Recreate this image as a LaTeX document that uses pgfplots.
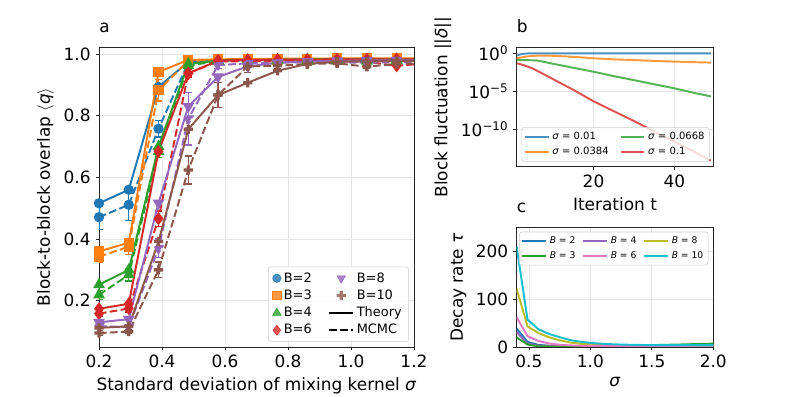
\documentclass[border=0pt]{standalone}
\usepackage{fontspec}
\setmainfont{DejaVu Sans}
\usepackage{pgfplots}
\pgfplotsset{compat=1.18}

\definecolor{c0}{HTML}{1F77B4}
\definecolor{c1}{HTML}{FF7F0E}
\definecolor{c2}{HTML}{2CA02C}
\definecolor{c3}{HTML}{D62728}
\definecolor{c4}{HTML}{9467BD}
\definecolor{c5}{HTML}{8C564B}
\definecolor{c6}{HTML}{E377C2}
\definecolor{c8}{HTML}{BCBD22}
\definecolor{c9}{HTML}{17BECF}

% filled plus, like matplotlib's 'P'
\pgfdeclareplotmark{P}{%
  \pgfpathrectangle{\pgfqpoint{-\pgfplotmarksize}{-0.36\pgfplotmarksize}}{\pgfqpoint{2\pgfplotmarksize}{0.72\pgfplotmarksize}}%
  \pgfpathrectangle{\pgfqpoint{-0.36\pgfplotmarksize}{-\pgfplotmarksize}}{\pgfqpoint{0.72\pgfplotmarksize}{2\pgfplotmarksize}}%
  \pgfusepathqfill
}

\pgfplotsset{
  mpl/.style={
    scale only axis,
    anchor=south west,
    axis line style={line width=0.6pt, black!85},
    tick align=outside, tick pos=left,
    major tick length=2.5pt,
    every tick/.style={black!85, line width=0.6pt},
    grid=major, major grid style={black!10, line width=0.5pt},
    tick label style={font=\fontsize{12.2}{14}\selectfont},
    label style={font=\fontsize{12.2}{14}\selectfont},
    /pgf/number format/assume math mode=true,
    title style={at={(0,1)}, anchor=base west, inner sep=0pt, yshift=4.5pt,
      font=\fontsize{12.2}{14}\selectfont},
    legend cell align=left,
  },
  th/.style={line width=1.4pt, solid, mark options={solid}},
  mc/.style={line width=1.4pt, dash pattern=on 5.5pt off 2.4pt, mark options={solid},
    error bars/y dir=both, error bars/y explicit,
    error bars/error bar style={solid, line width=1pt},
    error bars/error mark options={rotate=90, mark size=2.6pt, solid, line width=1pt}},
  ln/.style={line width=1.4pt, no markers},
}

\begin{document}
\begin{tikzpicture}
\path[use as bounding box] (0,0) rectangle (571pt,285.84pt);

% ---------------- panel a ----------------
\begin{axis}[mpl,
  at={(71.28pt,36pt)}, width=226.8pt, height=216pt,
  xmin=0.2, xmax=1.2, ymin=0.05, ymax=1.023,
  xtick={0.2,0.4,0.6,0.8,1.0,1.2}, ytick={0.2,0.4,0.6,0.8,1.0},
  xticklabel style={/pgf/number format/.cd, fixed, fixed zerofill, precision=1},
  yticklabel style={/pgf/number format/.cd, fixed, fixed zerofill, precision=1},
  xlabel={Standard deviation of mixing kernel \textit{σ}},
  ylabel={Block-to-block overlap $\langle$\textit{q}$\rangle$},
  title={a},
  legend style={at={(0.984,0.017)}, anchor=south east, legend columns=2,
    font=\fontsize{9.3}{11.5}\selectfont, draw=black!20, rounded corners=2pt,
    fill=white, fill opacity=0.8, text opacity=1,
    /tikz/every even column/.append style={column sep=10pt}},
]
% B=2
\addplot[c0, th, mark=*, mark size=3pt, forget plot] coordinates {
  (0.2,0.516) (0.2945,0.560) (0.389,0.893) (0.4835,0.975) (0.578,0.980) (0.6725,0.982)
  (0.767,0.983) (0.8615,0.983) (0.956,0.984) (1.0505,0.984) (1.145,0.984) (1.2395,0.984)};
\addplot[c0, mc, mark=*, mark size=3pt, forget plot] coordinates {
  (0.2,0.471) +- (0,0.04) (0.2945,0.511) +- (0,0.05) (0.389,0.758) +- (0,0.027)
  (0.4835,0.972) +- (0,0.006) (0.578,0.978) +- (0,0.004) (0.6725,0.980) +- (0,0.003)
  (0.767,0.981) +- (0,0.003) (0.8615,0.979) +- (0,0.003) (0.956,0.982) +- (0,0.003)
  (1.0505,0.978) +- (0,0.003) (1.145,0.981) +- (0,0.003) (1.2395,0.980) +- (0,0.003)};
% B=3
\addplot[c1, th, mark=square*, mark size=3pt, forget plot] coordinates {
  (0.2,0.360) (0.2945,0.388) (0.389,0.942) (0.4835,0.981) (0.578,0.983) (0.6725,0.984)
  (0.767,0.985) (0.8615,0.985) (0.956,0.986) (1.0505,0.986) (1.145,0.986) (1.2395,0.986)};
\addplot[c1, mc, mark=square*, mark size=3pt, forget plot] coordinates {
  (0.2,0.343) +- (0,0.02) (0.2945,0.375) +- (0,0.025) (0.389,0.883) +- (0,0.035)
  (0.4835,0.978) +- (0,0.005) (0.578,0.981) +- (0,0.003) (0.6725,0.983) +- (0,0.003)
  (0.767,0.982) +- (0,0.003) (0.8615,0.984) +- (0,0.003) (0.956,0.983) +- (0,0.003)
  (1.0505,0.985) +- (0,0.003) (1.145,0.982) +- (0,0.003) (1.2395,0.983) +- (0,0.003)};
% B=4
\addplot[c2, th, mark=triangle*, mark size=3.5pt, forget plot] coordinates {
  (0.2,0.252) (0.2945,0.300) (0.389,0.700) (0.4835,0.968) (0.578,0.979) (0.6725,0.981)
  (0.767,0.982) (0.8615,0.983) (0.956,0.983) (1.0505,0.983) (1.145,0.983) (1.2395,0.983)};
\addplot[c2, mc, mark=triangle*, mark size=3.5pt, forget plot] coordinates {
  (0.2,0.219) +- (0,0.015) (0.2945,0.284) +- (0,0.02) (0.389,0.684) +- (0,0.02)
  (0.4835,0.962) +- (0,0.008) (0.578,0.978) +- (0,0.004) (0.6725,0.978) +- (0,0.003)
  (0.767,0.980) +- (0,0.003) (0.8615,0.976) +- (0,0.003) (0.956,0.978) +- (0,0.003)
  (1.0505,0.977) +- (0,0.003) (1.145,0.979) +- (0,0.003) (1.2395,0.978) +- (0,0.003)};
% B=6
\addplot[c3, th, mark=diamond*, mark size=3.6pt, forget plot] coordinates {
  (0.2,0.174) (0.2945,0.190) (0.389,0.684) (0.4835,0.937) (0.578,0.979) (0.6725,0.981)
  (0.767,0.982) (0.8615,0.982) (0.956,0.983) (1.0505,0.983) (1.145,0.983) (1.2395,0.983)};
\addplot[c3, mc, mark=diamond*, mark size=3.6pt, forget plot] coordinates {
  (0.2,0.158) +- (0,0.01) (0.2945,0.175) +- (0,0.012) (0.389,0.466) +- (0,0.025)
  (0.4835,0.938) +- (0,0.012) (0.578,0.976) +- (0,0.005) (0.6725,0.977) +- (0,0.003)
  (0.767,0.976) +- (0,0.003) (0.8615,0.978) +- (0,0.003) (0.956,0.977) +- (0,0.003)
  (1.0505,0.975) +- (0,0.003) (1.145,0.962) +- (0,0.004) (1.2395,0.970) +- (0,0.003)};
% B=8
\addplot[c4, th, mark=triangle*, mark size=3.5pt, mark options={rotate=180}, forget plot] coordinates {
  (0.2,0.130) (0.2945,0.140) (0.389,0.517) (0.4835,0.830) (0.578,0.926) (0.6725,0.960)
  (0.767,0.972) (0.8615,0.976) (0.956,0.978) (1.0505,0.979) (1.145,0.980) (1.2395,0.980)};
\addplot[c4, mc, mark=triangle*, mark size=3.5pt, mark options={rotate=180}, forget plot] coordinates {
  (0.2,0.117) +- (0,0.008) (0.2945,0.115) +- (0,0.008) (0.389,0.370) +- (0,0.03)
  (0.4835,0.790) +- (0,0.085) (0.578,0.964) +- (0,0.01) (0.6725,0.970) +- (0,0.005)
  (0.767,0.972) +- (0,0.004) (0.8615,0.974) +- (0,0.003) (0.956,0.973) +- (0,0.003)
  (1.0505,0.972) +- (0,0.003) (1.145,0.974) +- (0,0.003) (1.2395,0.973) +- (0,0.003)};
% B=10
\addplot[c5, th, mark=P, mark size=3.3pt, forget plot] coordinates {
  (0.2,0.112) (0.2945,0.117) (0.389,0.392) (0.4835,0.756) (0.578,0.867) (0.6725,0.907)
  (0.767,0.946) (0.8615,0.968) (0.956,0.975) (1.0505,0.977) (1.145,0.978) (1.2395,0.978)};
\addplot[c5, mc, mark=P, mark size=3.3pt, forget plot] coordinates {
  (0.2,0.095) +- (0,0.008) (0.2945,0.100) +- (0,0.006) (0.389,0.300) +- (0,0.025)
  (0.4835,0.624) +- (0,0.045) (0.578,0.867) +- (0,0.04) (0.6725,0.960) +- (0,0.02)
  (0.767,0.962) +- (0,0.01) (0.8615,0.968) +- (0,0.005) (0.956,0.970) +- (0,0.004)
  (1.0505,0.959) +- (0,0.005) (1.145,0.968) +- (0,0.004) (1.2395,0.970) +- (0,0.003)};

% legend (matplotlib fills by column; pgfplots by row)
\addlegendimage{only marks, c0, mark=*, mark size=3pt}
\addlegendentry{B=2}
\addlegendimage{only marks, c4, mark=triangle*, mark size=3.5pt, mark options={rotate=180}}
\addlegendentry{B=8}
\addlegendimage{only marks, c1, mark=square*, mark size=3pt}
\addlegendentry{B=3}
\addlegendimage{only marks, c5, mark=P, mark size=3.3pt}
\addlegendentry{B=10}
\addlegendimage{only marks, c2, mark=triangle*, mark size=3.5pt}
\addlegendentry{B=4}
\addlegendimage{black, line width=1.4pt}
\addlegendentry{Theory}
\addlegendimage{only marks, c3, mark=diamond*, mark size=3.6pt}
\addlegendentry{B=6}
\addlegendimage{black, line width=1.4pt, dash pattern=on 5.5pt off 2.4pt}
\addlegendentry{MCMC}
\end{axis}

% ---------------- panel b ----------------
\begin{axis}[mpl,
  at={(372pt,165.8pt)}, width=141.6pt, height=86pt,
  ymode=log, xmin=1, xmax=49.6, ymin=1.26e-15, ymax=6.2,
  xtick={20,40}, ytick={1,1e-5,1e-10},
  yticklabels={10\textsuperscript{0},10\textsuperscript{−5},10\textsuperscript{−10}},
  xlabel={Iteration t},
  ylabel={Block fluctuation ||\textit{δ}||},
  title={b},
  legend style={at={(0.025,0.04)}, anchor=south west, legend columns=2,
    font=\fontsize{7.2}{8.5}\selectfont, draw=black!20, rounded corners=2pt,
    fill=white, fill opacity=0.8, text opacity=1, inner sep=1.5pt,
    /tikz/every even column/.append style={column sep=6pt}},
]
\addplot[c0, ln, draw opacity=0.8] coordinates {
  (1,0.5) (2,0.75) (3,0.9) (4,0.97) (5,0.99) (7,1) (20,1) (35,1) (49,1)};
\addlegendentry{\textit{σ} = 0.01}
\addplot[c2, ln, draw opacity=0.8] coordinates {
  (1,0.135) (3,0.13) (5,0.12) (6,0.115) (8,0.07) (10,0.042) (14,0.016) (20,3.8e-3)
  (25,1e-3) (30,3e-4) (35,8.5e-5) (40,2.5e-5) (45,6e-6) (49,2.2e-6)};
\addlegendentry{\textit{σ} = 0.0668}
\addplot[c1, ln, draw opacity=0.8] coordinates {
  (1,0.22) (3,0.35) (5,0.46) (7,0.5) (9,0.49) (12,0.42) (16,0.32) (20,0.22)
  (25,0.16) (30,0.13) (35,0.1) (40,0.081) (45,0.068) (49,0.06)};
\addlegendentry{\textit{σ} = 0.0384}
\addplot[c3, ln, draw opacity=0.8] coordinates {
  (1,0.05) (3,0.025) (5,0.01) (7,2.8e-3) (10,4e-4) (15,1.6e-5) (20,5e-7)
  (25,2.5e-8) (30,1.26e-9) (35,5.6e-11) (40,2.5e-12) (45,1.1e-13) (49,8e-15)};
\addlegendentry{\textit{σ} = 0.1}
\end{axis}

% ---------------- panel c ----------------
\begin{axis}[mpl,
  at={(372pt,36pt)}, width=141.6pt, height=86pt,
  xmin=0.4, xmax=2.0, ymin=0, ymax=250,
  xtick={0.5,1.0,1.5,2.0}, ytick={0,100,200},
  xticklabel style={/pgf/number format/.cd, fixed, fixed zerofill, precision=1},
  xlabel={\textit{σ}},
  ylabel={Decay rate \textit{τ}},
  title={c},
  legend style={at={(0.975,0.965)}, anchor=north east, legend columns=3,
    font=\fontsize{6.6}{7.8}\selectfont, draw=black!20, rounded corners=2pt,
    fill=white, fill opacity=0.8, text opacity=1, inner sep=1.5pt,
    /tikz/every even column/.append style={column sep=3pt}},
]
\addplot[c0, ln] coordinates {
  (0.4,38.5) (0.489,10.5) (0.578,4.2) (0.667,2.5) (0.756,2) (0.844,1.8) (0.933,1.8)
  (1.022,1.9) (1.111,2) (1.2,2.2) (1.289,2.4) (1.378,2.6) (1.467,2.8) (1.556,3)
  (1.644,3.2) (1.733,3.4) (1.822,3.6) (1.911,3.8) (2.0,4)};
\addlegendentry{\textit{B} = 2}
\addplot[c4, ln] coordinates {
  (0.4,31) (0.489,7) (0.578,3) (0.667,2) (0.756,1.6) (0.844,1.5) (0.933,1.5)
  (1.022,1.6) (1.111,1.7) (1.2,1.8) (1.289,1.9) (1.378,2) (1.467,2.1) (1.556,2.2)
  (1.644,2.3) (1.733,2.4) (1.822,2.5) (1.911,2.6) (2.0,2.7)};
\addlegendentry{\textit{B} = 4}
\addplot[c8, ln] coordinates {
  (0.4,122) (0.489,43) (0.578,29) (0.667,20) (0.756,13.5) (0.844,9) (0.933,6.5)
  (1.022,5) (1.111,4) (1.2,3.5) (1.289,3.2) (1.378,3) (1.467,3) (1.556,3)
  (1.644,3) (1.733,3.1) (1.822,3.2) (1.911,3.3) (2.0,3.4)};
\addlegendentry{\textit{B} = 8}
\addplot[c2, ln] coordinates {
  (0.4,20) (0.489,5) (0.578,1.5) (0.667,1) (0.756,1) (0.844,1.2) (0.933,1.5)
  (1.022,1.8) (1.111,2.1) (1.2,2.5) (1.289,2.9) (1.378,3.3) (1.467,3.8) (1.556,4.2)
  (1.644,4.7) (1.733,5.2) (1.822,5.8) (1.911,6.4) (2.0,7)};
\addlegendentry{\textit{B} = 3}
\addplot[c6, ln] coordinates {
  (0.4,62) (0.489,22.5) (0.578,12.6) (0.667,7) (0.756,4.5) (0.844,3.2) (0.933,2.5)
  (1.022,2.2) (1.111,2) (1.2,2) (1.289,2) (1.378,2) (1.467,2.1) (1.556,2.2)
  (1.644,2.3) (1.733,2.4) (1.822,2.5) (1.911,2.6) (2.0,2.7)};
\addlegendentry{\textit{B} = 6}
\addplot[c9, ln] coordinates {
  (0.4,210) (0.489,57) (0.578,37) (0.667,27) (0.756,20) (0.844,14) (0.933,10.5)
  (1.022,8) (1.111,6.5) (1.2,5.5) (1.289,4.8) (1.378,4.3) (1.467,4) (1.556,3.8)
  (1.644,3.7) (1.733,3.7) (1.822,3.7) (1.911,3.8) (2.0,3.9)};
\addlegendentry{\textit{B} = 10}
\end{axis}
\end{tikzpicture}
\end{document}
